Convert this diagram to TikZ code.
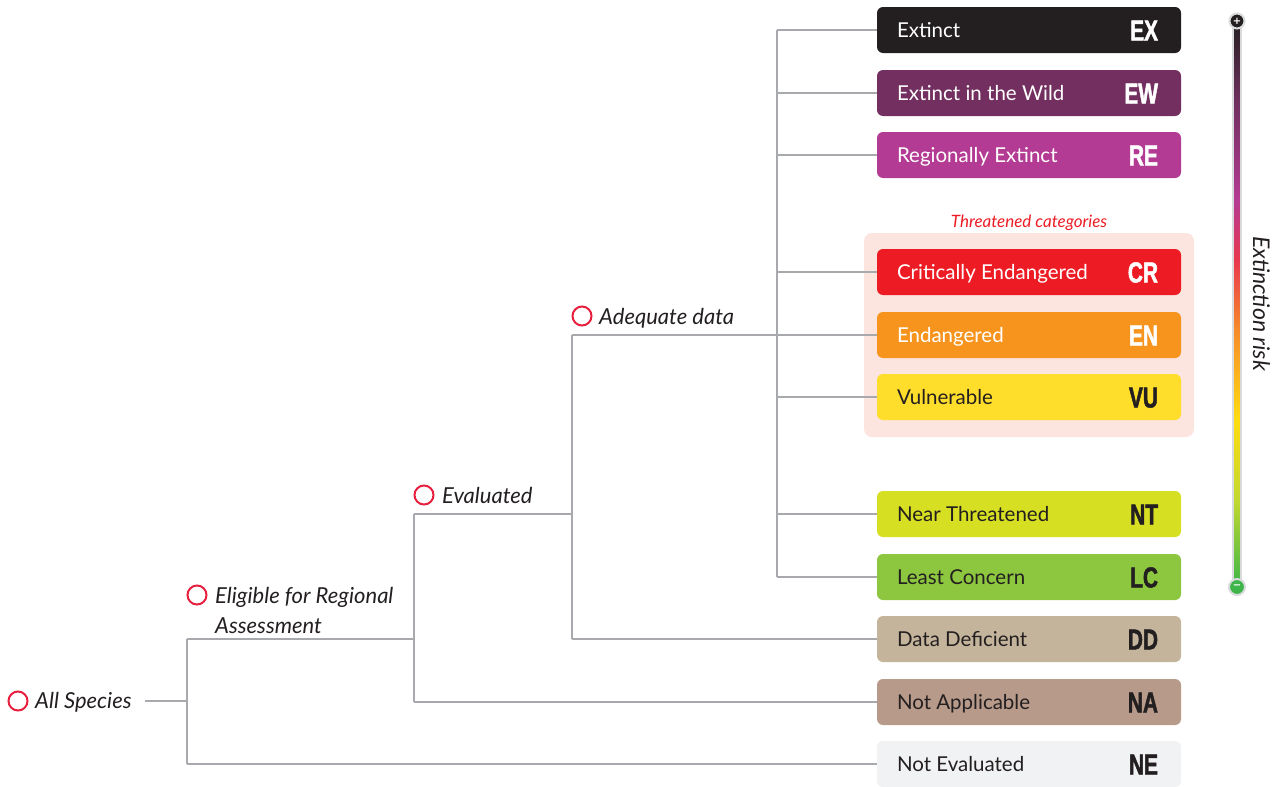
\documentclass[tikz,border=0pt]{standalone}
\usepackage{fontspec}
\setmainfont{Lato}
\newfontfamily\abbrfont{Liberation Sans}[FakeStretch=0.72,BoldFeatures={FakeBold=1.6}]
\newfontfamily\symfont{DejaVu Sans}
\usetikzlibrary{calc}
\definecolor{cEX}{HTML}{231F20}
\definecolor{cEW}{HTML}{722F5F}
\definecolor{cRE}{HTML}{B43B93}
\definecolor{cCR}{HTML}{ED1C24}
\definecolor{cEN}{HTML}{F7941E}
\definecolor{cVU}{HTML}{FFDD2B}
\definecolor{cNT}{HTML}{D7DF22}
\definecolor{cLC}{HTML}{8DC63F}
\definecolor{cDD}{HTML}{C4B49B}
\definecolor{cNA}{HTML}{B89A8A}
\definecolor{cNE}{HTML}{F1F2F3}
\definecolor{thrbg}{HTML}{FCE4DF}
\definecolor{darktxt}{HTML}{231F20}
\definecolor{linegray}{HTML}{A7A9AC}
\definecolor{ringred}{HTML}{E8203F}
\definecolor{barborder}{HTML}{D9DADB}
\definecolor{gGreen}{HTML}{3DB54A}
\definecolor{gYG}{HTML}{C2D82E}
\definecolor{gYel}{HTML}{FFDC10}
\definecolor{gOr}{HTML}{F68B2A}
\definecolor{gRed}{HTML}{E9384E}
\definecolor{gMag}{HTML}{B43B93}
\definecolor{gPur}{HTML}{6E2F5E}
\pgfdeclareverticalshading{riskshade}{100bp}{color(0bp)=(gGreen); color(25bp)=(gGreen); color(32.7bp)=(gYG); color(39.8bp)=(gYel); color(47.7bp)=(gOr); color(53.9bp)=(gRed); color(59.2bp)=(gMag); color(68bp)=(gPur); color(75bp)=(cEX); color(100bp)=(cEX)}
\newcommand\mkcat[6]{%
  \node[catbox, fill=#3] (#1) at (1029,#2) {};
  \node[cattext, text=#4] (#1t) at ([xshift=20pt,yshift=-7.4pt]#1.west) {#5};
  \node[abbrtext, text=#4] (#1a) at ([xshift=-23pt,yshift=-10.5pt]#1.east) {#6};}
\begin{document}
\begin{tikzpicture}[x=1pt,y=-1pt,
  catbox/.style={rounded corners=6pt, minimum width=304pt, minimum height=46pt, inner sep=0pt, draw=none},
  cattext/.style={anchor=base west, font=\fontsize{20.5}{24}\selectfont, inner sep=0pt},
  abbrtext/.style={anchor=base east, font=\abbrfont\bfseries\fontsize{29}{30}\selectfont, inner sep=0pt},
  conn/.style={draw=linegray, line width=1.4pt},
  lvl/.style={anchor=base west, font=\itshape\fontsize{22}{26}\selectfont, text=darktxt, inner sep=0pt},
  ring/.style={circle, draw=ringred, line width=2pt, minimum size=19pt, inner sep=0pt}]
\useasboundingbox (0,0) rectangle (1283,787);
% threatened background
\node[fill=thrbg, rounded corners=8pt, minimum width=330pt, minimum height=204pt, inner sep=0pt] (thr) at (1029,335) {};
\node[anchor=base, font=\itshape\fontsize{17}{19}\selectfont, text=cCR, inner sep=0pt] (thrlab) at (1029,227) {Threatened categories};
% junction coordinates
\coordinate (allout) at (145,701);
\coordinate (ja) at (187,701);
\coordinate (jatop) at (187,639);
\coordinate (jabot) at (187,764);
\coordinate (jb) at (414,639);
\coordinate (jbtop) at (414,514);
\coordinate (jbbot) at (414,702);
\coordinate (jc) at (572,514);
\coordinate (jctop) at (572,335);
\coordinate (jcbot) at (572,639);
\coordinate (jdtop) at (777,30);
\coordinate (jdbot) at (777,577);
% categories
\mkcat{ex}{30}{cEX}{white}{Extinct}{EX}
\mkcat{ew}{93}{cEW}{white}{Extinct in the Wild}{EW}
\mkcat{re}{155}{cRE}{white}{Regionally Extinct}{RE}
\mkcat{cr}{272}{cCR}{white}{Critically Endangered}{CR}
\mkcat{en}{335}{cEN}{white}{Endangered}{EN}
\mkcat{vu}{397}{cVU}{darktxt}{Vulnerable}{VU}
\mkcat{nt}{514}{cNT}{darktxt}{Near Threatened}{NT}
\mkcat{lc}{577}{cLC}{darktxt}{Least Concern}{LC}
\mkcat{dd}{639}{cDD}{darktxt}{Data Deficient}{DD}
\mkcat{na}{702}{cNA}{darktxt}{Not Applicable}{NA}
\mkcat{ne}{764}{cNE}{darktxt}{Not Evaluated}{NE}
% connectors
\draw[conn] (allout) -- (ja);
\draw[conn] (jatop) -- (jabot);
\draw[conn] (jatop) -- (jb);
\draw[conn] (jabot) -- (ne.west);
\draw[conn] (jbtop) -- (jbbot);
\draw[conn] (jbbot) -- (na.west);
\draw[conn] (jbtop) -- (jc);
\draw[conn] (jctop) -- (jcbot);
\draw[conn] (jcbot) -- (dd.west);
\draw[conn] (jctop) -- (en.west);
\draw[conn] (jdtop) -- (jdbot);
\foreach \b in {ex,ew,re,cr,vu,nt,lc}{
  \draw[conn] (jdtop |- \b.west) -- (\b.west);
}
% level labels
\node[ring] (r0) at (18,701) {};
\node[lvl] (allsp) at (35,708) {All Species};
\node[ring] (r1) at (197,595) {};
\node[lvl] (elig) at (215,603) {Eligible for Regional};
\node[lvl] (elig2) at (215,633) {Assessment};
\node[ring] (r2) at (424,495) {};
\node[lvl] (evald) at (442,503) {Evaluated};
\node[ring] (r3) at (582,316) {};
\node[lvl] (adeq) at (599,324) {Adequate data};
% extinction risk bar
\coordinate (bt) at (1237,21);
\coordinate (bb) at (1237,587);
\draw[line width=10pt, barborder] (bt) -- (bb);
\shade[shading=riskshade] (1234.5,21) rectangle (1239.5,587);
\node[circle, fill=cEX, draw=barborder, line width=2pt, minimum size=15pt, inner sep=0pt, text=white, font=\symfont\bfseries\fontsize{10}{10}\selectfont] (plus) at (bt) {+};
\node[circle, fill=gGreen, draw=barborder, line width=2pt, minimum size=16pt, inner sep=0pt, text=white, font=\symfont\bfseries\fontsize{10}{10}\selectfont] (minus) at (bb) {−};
\node[rotate=-90, anchor=base, font=\itshape\fontsize{23}{26}\selectfont, text=darktxt, inner sep=0pt] (risk) at (1253,303.5) {Extinction risk};
\end{tikzpicture}
\end{document}
